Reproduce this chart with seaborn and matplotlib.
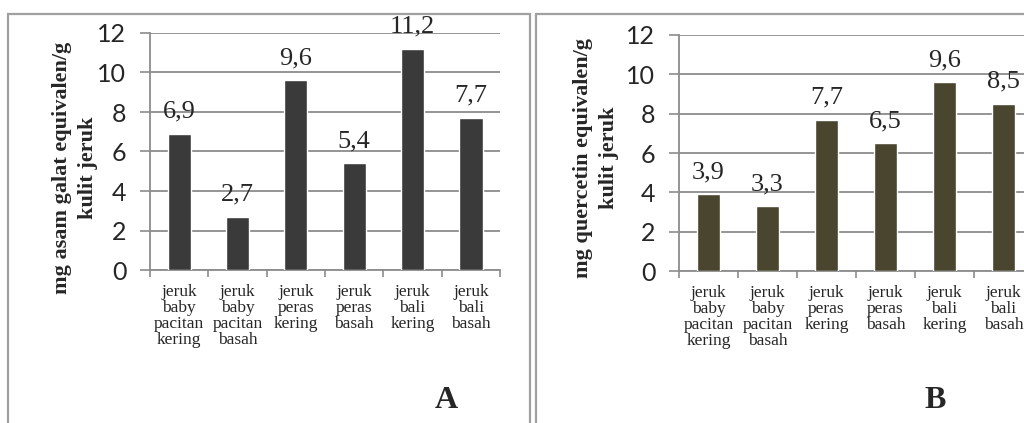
import matplotlib
matplotlib.use("Agg")
import matplotlib.pyplot as plt
from matplotlib.patches import Rectangle
import seaborn as sns
import pandas as pd

# data
categories = [
    "jeruk\nbaby\npacitan\nkering",
    "jeruk\nbaby\npacitan\nbasah",
    "jeruk\nperas\nkering",
    "jeruk\nperas\nbasah",
    "jeruk\nbali\nkering",
    "jeruk\nbali\nbasah",
]
galat_values = [6.9, 2.7, 9.6, 5.4, 11.2, 7.7]
quercetin_values = [3.9, 3.3, 7.7, 6.5, 9.6, 8.5]
y_ticks = [0, 2, 4, 6, 8, 10, 12]

sns.set_style("white")

W, H = 1024, 423
fig = plt.figure(figsize=(W / 100, H / 100), dpi=100)

# panel frames (pixels -> figure fraction)
def px_rect(x0, y0, x1, y1):
    return Rectangle((x0 / W, 1 - y1 / H), (x1 - x0) / W, (y1 - y0) / H,
                     transform=fig.transFigure, fill=False,
                     edgecolor="#a0a0a0", linewidth=1.6, zorder=0)

fig.patches.append(px_rect(8, 14, 530, 440))
fig.patches.append(px_rect(536, 14, 1060, 440))

grid_col = "#8c8c8c"


def draw_panel(ax, values, color, ylabel, label_xy, letter, letter_x):
    df = pd.DataFrame({"kategori": categories, "nilai": values})
    sns.barplot(data=df, x="kategori", y="nilai", color=color, width=0.4,
                saturation=1, ax=ax, zorder=3)
    ax.set_ylim(0, 12)
    ax.set_xlim(-0.5, len(categories) - 0.5)
    ax.set_yticks(y_ticks)
    ax.set_yticklabels([str(t) for t in y_ticks], fontfamily="Lato",
                       fontsize=18)
    ax.grid(axis="y", color=grid_col, linewidth=1.3, zorder=0)
    ax.set_axisbelow(True)
    for s in ["top", "right"]:
        ax.spines[s].set_visible(False)
    for s in ["left", "bottom"]:
        ax.spines[s].set_color(grid_col)
        ax.spines[s].set_linewidth(1.3)
    ax.tick_params(axis="y", length=7, width=1.2, color=grid_col, pad=10,
                   left=True)
    # category boundaries as minor ticks
    ax.set_xticks([i - 0.5 for i in range(len(categories) + 1)], minor=True)
    ax.tick_params(axis="x", which="major", length=0, pad=10)
    ax.tick_params(axis="x", which="minor", length=5, width=1.2,
                   color=grid_col, bottom=True)
    for lab in ax.get_xticklabels():
        lab.set_fontfamily("Liberation Serif")
        lab.set_fontsize(12.5)
        lab.set_linespacing(1.0)
        lab.set_va("top")
    ax.set_xlabel("")
    ax.set_ylabel(ylabel, fontfamily="Liberation Serif", fontweight="bold",
                  fontsize=16, linespacing=1.4)
    ax.yaxis.set_label_coords(*label_xy)
    ax.yaxis.label.set_va("center")

    for i, v in enumerate(values):
        ax.annotate(f"{v:.1f}".replace(".", ","), (i, v),
                    xytext=(0, 8), textcoords="offset points",
                    ha="center", va="bottom", fontfamily="Liberation Serif",
                    fontsize=19, annotation_clip=False)

    fig.text(letter_x / W, 1 - 400 / H, letter, fontfamily="Liberation Serif",
             fontweight="bold", fontsize=23, ha="center", va="center")


ax_a = fig.add_axes([150 / W, 1 - 270 / H, 350 / W, 237 / H])
draw_panel(ax_a, galat_values, "#3a3a3a",
           "mg asam galat equivalen/g\nkulit jeruk", (-0.215, 0.43), "A", 446)

ax_b = fig.add_axes([679 / W, 1 - 271 / H, 354 / W, 236 / H])
draw_panel(ax_b, quercetin_values, "#4a452f",
           "mg quercetin equivalen/g\nkulit jeruk", (-0.235, 0.48), "B", 935)

fig.savefig("out.png", dpi=100)
